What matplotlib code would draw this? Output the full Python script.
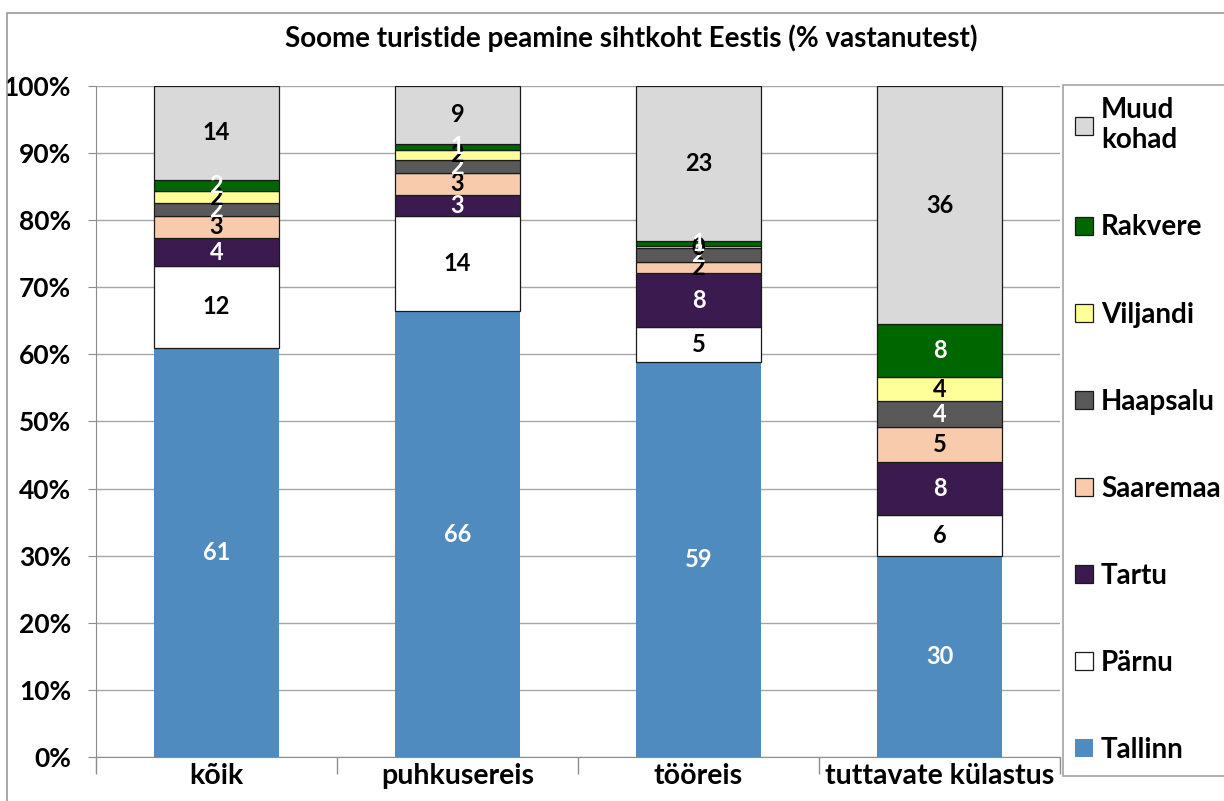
import matplotlib.pyplot as plt
from matplotlib.patches import Rectangle
from matplotlib.ticker import FuncFormatter
import numpy as np

plt.rcParams['font.family'] = ['Lato', 'DejaVu Sans']
plt.rcParams['font.weight'] = 'bold'

categories = ["kõik", "puhkusereis", "tööreis", "tuttavate külastus"]
series_names = ["Tallinn", "Pärnu", "Tartu", "Saaremaa", "Haapsalu", "Viljandi", "Rakvere", "Muud\nkohad"]

tallinn = [61.0, 66.4, 58.9, 30.0]
parnu = [12.2, 14.3, 5.2, 6.0]
tartu = [4.1, 3.0, 8.0, 8.0]
saaremaa = [3.4, 3.4, 1.7, 5.2]
haapsalu = [1.8, 1.9, 2.1, 3.8]
viljandi = [1.9, 1.5, 0.2, 3.6]
rakvere = [1.6, 0.9, 0.8, 7.9]
muud = [14.0, 8.6, 23.1, 35.5]

series_values = [tallinn, parnu, tartu, saaremaa, haapsalu, viljandi, rakvere, muud]
colors = ["#4F8BBE", "#FFFFFF", "#3B1A4F", "#F8CBAD", "#595959", "#FFFF99", "#006600", "#D9D9D9"]
label_colors = ["white", "black", "white", "black", "white", "black", "white", "black"]

fig = plt.figure(figsize=(12.24, 8.01), dpi=100)
ax = fig.add_axes([0.0784, 0.055, 0.7876, 0.8376])

# outer chart frame
fig.patches.append(Rectangle((0.006, -0.01), 1.1, 0.994, transform=fig.transFigure,
                             fill=False, edgecolor="#9A9A9A", linewidth=1.2))

x = np.arange(len(categories))
bottom = np.zeros(len(categories))
handles = []
for name, vals, col, lcol in zip(series_names, series_values, colors, label_colors):
    vals = np.array(vals)
    edge = "none" if name == "Tallinn" else "#1A1A1A"
    bars = ax.bar(x, vals, 0.52, bottom=bottom, color=col, edgecolor=edge, linewidth=0.9,
                  label=name, zorder=3)
    handles.append(bars)
    for xi, v, b in zip(x, vals, bottom):
        ax.text(xi, b + v / 2, f"{v:.0f}", ha="center", va="center", color=lcol,
                fontsize=17, fontweight="bold", zorder=4)
    bottom += vals

ax.set_xlim(-0.5, len(categories) - 0.5)
ax.set_ylim(0, 100)
ax.set_yticks(np.arange(0, 101, 10))
ax.yaxis.set_major_formatter(FuncFormatter(lambda v, p: f"{v:.0f}%"))
ax.yaxis.grid(True, color="#A6A6A6", linewidth=1.0, zorder=0)
ax.set_xticks(x)
ax.set_xticklabels(categories)
ax.set_xticks(np.arange(-0.5, len(categories)), minor=True)
ax.tick_params(axis="x", which="major", length=0, labelsize=20.5, pad=4)
ax.tick_params(axis="x", which="minor", length=12, color="#8C8C8C", width=1.0)
ax.tick_params(axis="y", length=6, color="#8C8C8C", labelsize=19, pad=12)
for lbl in ax.get_xticklabels() + ax.get_yticklabels():
    lbl.set_fontweight("bold")
for s in ["top", "right"]:
    ax.spines[s].set_visible(False)
for s in ["left", "bottom"]:
    ax.spines[s].set_color("#8C8C8C")

fig.text(0.516, 0.952, "Soome turistide peamine sihtkoht Eestis (% vastanutest)",
         ha="center", va="center", fontsize=20, fontweight="bold")

leg = ax.legend(handles[::-1], series_names[::-1], loc="upper left",
                bbox_to_anchor=(1.003, 1.002), borderaxespad=0, fontsize=20,
                labelspacing=2.2, handlelength=0.62, handleheight=0.62, handletextpad=0.3,
                borderpad=0.45, fancybox=False, frameon=True)
leg.get_frame().set_edgecolor("#8C8C8C")
leg.get_frame().set_linewidth(1.2)
for t in leg.get_texts():
    t.set_fontweight("bold")

fig.savefig("out.png", dpi=100)
